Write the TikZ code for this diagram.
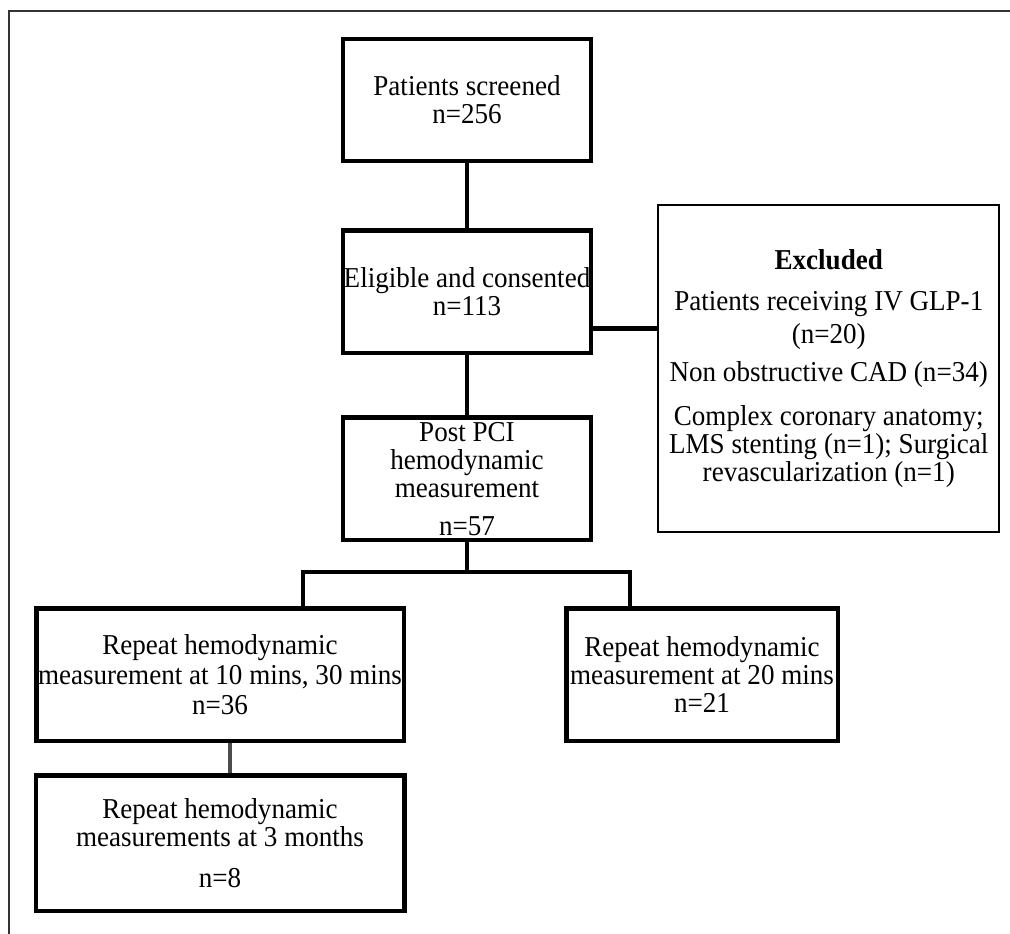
\documentclass[tikz,border=0pt]{standalone}
\usepackage{fontspec}
\setmainfont[FakeStretch=0.94]{Liberation Serif}
\usepackage{tikz}
\usetikzlibrary{positioning}

\tikzset{
	flowbox/.style={draw, line width=2.25pt, align=center, inner sep=0pt, font=\fontsize{14.4}{14}\selectfont},
	exclbox/.style={draw, line width=1pt, align=center, inner sep=0pt, font=\fontsize{14.4}{14}\selectfont},
	link/.style={line width=2.25pt},
	graylink/.style={line width=2pt, draw=black!70},
}

\begin{document}
\begin{tikzpicture}[x=1pt, y=1pt]
		\useasboundingbox (0,0) rectangle (505,-466.5);
		\draw[black!80, line width=1.2pt] (4.5,-475) |- (515,-5.5);
		\node [flowbox, minimum width=124pt, minimum height=61pt] (screened) at (233.5,-50) {Patients screened\\n=256};
		\node [flowbox, minimum width=124pt, minimum height=61.25pt, below=32.5pt of screened] (eligible) {Eligible and consented\\n=113};
		\node [flowbox, minimum width=124pt, minimum height=61.25pt, below=30pt of eligible] (post) {Post PCI\\hemodynamic\\measurement\\[5pt]n=57};
		\node [exclbox, minimum width=170.5pt, minimum height=163.5pt, right=32pt of eligible, yshift=-38.5pt] (excl) {\textbf{Excluded}\\[6.5pt]Patients receiving IV GLP-1\\[2.5pt](n=20)\\[5pt]Non obstructive CAD (n=34)\\[8pt]Complex coronary anatomy;\\LMS stenting (n=1); Surgical\\revascularization (n=1)};
		\node [flowbox, minimum width=183.75pt, minimum height=66.25pt, below=32pt of post, xshift=-123.5pt] (left) {Repeat hemodynamic\\[1pt]measurement at 10 mins, 30 mins\\[1pt]n=36};
		\node [flowbox, minimum width=135.75pt, minimum height=66.25pt, below=32pt of post, xshift=117.5pt] (right) {Repeat hemodynamic\\measurement at 20 mins\\n=21};
		\node [flowbox, minimum width=184.25pt, minimum height=67.75pt, below=15pt of left] (final) {Repeat hemodynamic\\measurements at 3 months\\[6.5pt]n=8};
		% connectors
		\coordinate (forkL) at (151.5,-286);
		\coordinate (forkR) at (315,-286);
		\draw[link] (screened) -- (eligible);
		\draw[link] (eligible) -- (post);
		\draw[link] ([yshift=-18.25pt]eligible.east) -- ([yshift=-18.25pt]eligible.east -| excl.west);
		\draw[link] (post) -- (post |- forkL);
		\draw[link] (forkL |- left.north) -- (forkL) -- (forkR) -- (forkR |- right.north);
		\draw[graylink] ([xshift=5pt]left.south) -- ([xshift=5pt]left.south |- final.north);
	\end{tikzpicture}
\end{document}
